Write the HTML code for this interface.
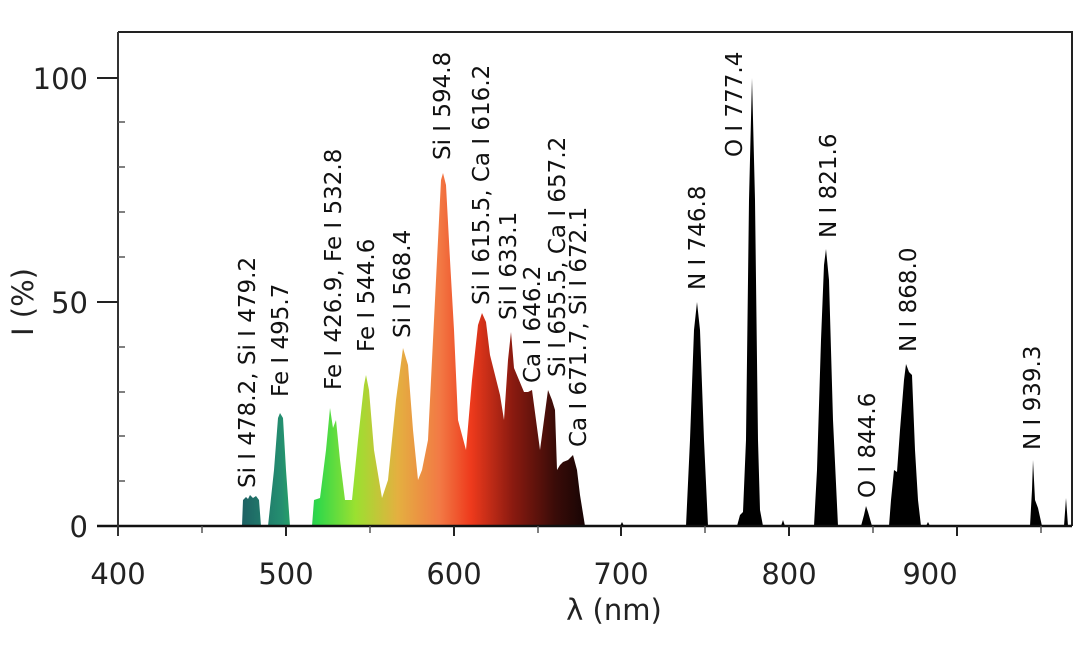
<!DOCTYPE html>
<html><head><meta charset="utf-8"><style>
html,body{margin:0;padding:0;background:#fff;}
svg{display:block;font-family:"DejaVu Sans","Liberation Sans",sans-serif;}
</style></head><body>
<svg width="1080" height="656" viewBox="0 0 1080 656" xmlns="http://www.w3.org/2000/svg">
<defs>
<linearGradient id="g" gradientUnits="userSpaceOnUse" x1="240" y1="0" x2="590" y2="0">
<stop offset="0" stop-color="#1d5f63"/>
<stop offset="0.12" stop-color="#248f70"/>
<stop offset="0.22" stop-color="#2fd84a"/>
<stop offset="0.33" stop-color="#9be030"/>
<stop offset="0.45" stop-color="#e4b040"/>
<stop offset="0.57" stop-color="#f27a45"/>
<stop offset="0.66" stop-color="#ee3a1c"/>
<stop offset="0.78" stop-color="#8a1a10"/>
<stop offset="0.9" stop-color="#3a0c08"/>
<stop offset="1" stop-color="#120404"/>
</linearGradient>
</defs>
<path d="M118 32 H1072 V526" fill="none" stroke="#222" stroke-width="2"/>
<path fill="url(#g)" d="M242 526 L243 500 L246 497 L248 499 L250 495 L253 498 L256 496 L259 500 L261 526 Z
M268 526 L274 470 L278 418 L280 413 L283 418 L286 470 L290 526 Z
M312 526 L314 500 L320 498 L326 450 L330 408 L333 428 L336 420 L340 460 L345 500 L352 500 L358 440 L364 385 L366 375 L369 390 L374 450 L382 498 L388 480 L396 400 L403 348 L408 365 L413 430 L418 480 L422 470 L428 440 L435 300 L441 180 L443 173 L446 185 L450 260 L454 330 L458 420 L462 435 L466 450 L472 380 L478 325 L482 313 L486 322 L490 355 L495 375 L500 395 L504 420 L508 360 L511 332 L514 368 L519 380 L524 392 L528 392 L532 390 L536 420 L540 450 L544 420 L548 390 L552 400 L555 410 L557 470 L560 465 L563 462 L568 460 L573 455 L577 470 L580 495 L585 526 Z"/>
<path fill="#000" d="M686 526 L690 440 L694 330 L697 302 L700 330 L704 440 L708 526 Z
M737 526 L740 515 L743 512 L746 440 L749 200 L752 78 L755 200 L758 440 L760 510 L763 526 Z
M814 526 L817 470 L821 340 L824 265 L826 249 L829 280 L833 420 L838 526 Z
M861 526 L864 515 L866 506 L868 512 L872 526 Z
M889 526 L891 500 L894 470 L897 472 L900 430 L904 380 L906 364 L909 372 L912 375 L915 450 L918 500 L921 526 Z
M1030 526 L1032 490 L1033 460 L1035 500 L1038 508 L1042 526 Z
M1064 526 L1066 498 L1068 526 Z
M620 526 L622 522 L624 526 Z M781 526 L783 520 L785 526 Z M926 526 L928 522 L930 526 Z"/>
<line x1="97" y1="526" x2="1072" y2="526" stroke="#111" stroke-width="2.5"/>
<line x1="118" y1="32" x2="118" y2="536" stroke="#333" stroke-width="2"/>
<g stroke="#222" stroke-width="2">
<line x1="97" y1="78" x2="118" y2="78"/><line x1="97" y1="302" x2="118" y2="302"/>
<line x1="286" y1="526" x2="286" y2="536"/><line x1="454" y1="526" x2="454" y2="536"/>
<line x1="621" y1="526" x2="621" y2="536"/><line x1="789" y1="526" x2="789" y2="536"/><line x1="957" y1="526" x2="957" y2="536"/>
</g>
<g stroke="#555" stroke-width="1.5">
<line x1="118" y1="481" x2="125" y2="481"/><line x1="118" y1="436" x2="125" y2="436"/><line x1="118" y1="392" x2="125" y2="392"/><line x1="118" y1="347" x2="125" y2="347"/>
<line x1="118" y1="257" x2="125" y2="257"/><line x1="118" y1="212" x2="125" y2="212"/><line x1="118" y1="167" x2="125" y2="167"/><line x1="118" y1="122" x2="125" y2="122"/>
<line x1="202" y1="526" x2="202" y2="533"/><line x1="370" y1="526" x2="370" y2="533"/><line x1="538" y1="526" x2="538" y2="533"/>
<line x1="705" y1="526" x2="705" y2="533"/><line x1="873" y1="526" x2="873" y2="533"/><line x1="1041" y1="526" x2="1041" y2="533"/>
</g>
<g font-size="29" fill="#222">
<text x="88" y="89" text-anchor="end">100</text>
<text x="88" y="313" text-anchor="end">50</text>
<text x="88" y="537" text-anchor="end">0</text>
<g text-anchor="middle">
<text x="118" y="584">400</text><text x="286" y="584">500</text><text x="454" y="584">600</text>
<text x="621" y="584">700</text><text x="789" y="584">800</text><text x="930" y="584">900</text>
<text x="614" y="620">λ (nm)</text>
<text transform="translate(33,302) rotate(-90)">I (%)</text>
</g>
</g>
<g font-size="23" fill="#111">
<text transform="translate(255,488) rotate(-90)">Si I 478.2, Si I 479.2</text>
<text transform="translate(288,397) rotate(-90)">Fe I 495.7</text>
<text transform="translate(341,390) rotate(-90)">Fe I 426.9, Fe I 532.8</text>
<text transform="translate(374,352) rotate(-90)">Fe I 544.6</text>
<text transform="translate(410,338) rotate(-90)">Si I 568.4</text>
<text transform="translate(450,160) rotate(-90)">Si I 594.8</text>
<text transform="translate(489,305) rotate(-90)">Si I 615.5, Ca I 616.2</text>
<text transform="translate(516,320) rotate(-90)">Si I 633.1</text>
<text transform="translate(540,383) rotate(-90)">Ca I 646.2</text>
<text transform="translate(565,377) rotate(-90)">Si I 655.5, Ca I 657.2</text>
<text transform="translate(586,447) rotate(-90)">Ca I 671.7, Si I 672.1</text>
<text transform="translate(705,290) rotate(-90)">N I 746.8</text>
<text transform="translate(742,157) rotate(-90)">O I 777.4</text>
<text transform="translate(836,238) rotate(-90)">N I 821.6</text>
<text transform="translate(875,498) rotate(-90)">O I 844.6</text>
<text transform="translate(916,352) rotate(-90)">N I 868.0</text>
<text transform="translate(1040,450) rotate(-90)">N I 939.3</text>
</g>
</svg>
</body></html>
